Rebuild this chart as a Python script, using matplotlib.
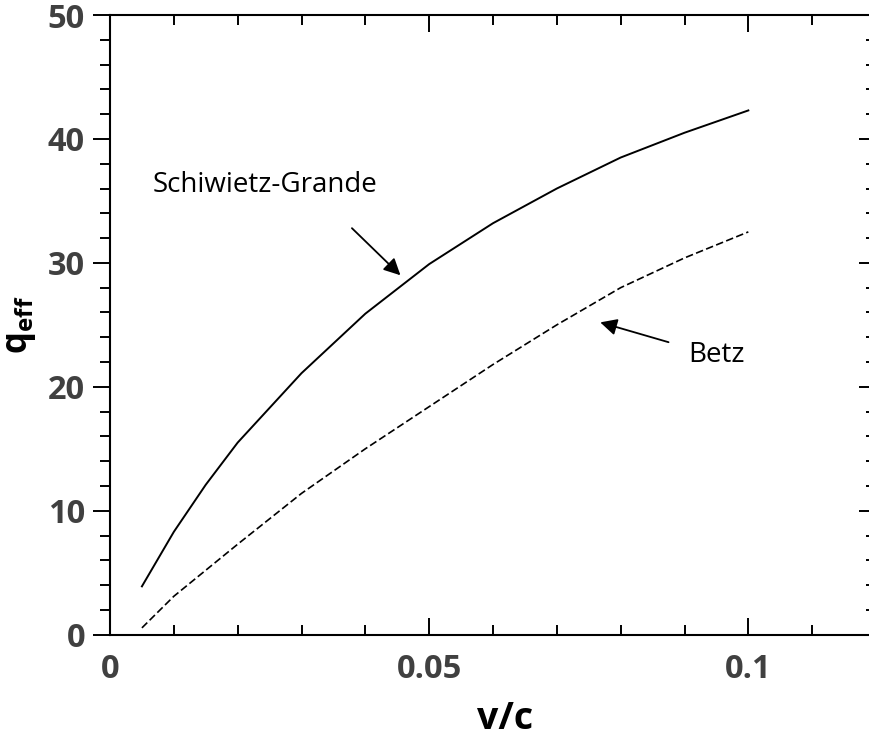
import matplotlib
matplotlib.use("Agg")
import matplotlib.pyplot as plt
from matplotlib.ticker import MultipleLocator

plt.rcParams['font.family'] = ['Open Sans', 'DejaVu Sans']
plt.rcParams['mathtext.fontset'] = 'custom'
plt.rcParams['mathtext.bf'] = 'Open Sans:bold'
plt.rcParams['mathtext.rm'] = 'Open Sans'

# valores
v = [0.005, 0.01, 0.015, 0.02, 0.03, 0.04, 0.05, 0.06, 0.07, 0.08, 0.09, 0.1]
q_sg = [3.9, 8.3, 12.1, 15.5, 21.1, 25.9, 29.9, 33.2, 36.0, 38.5, 40.5, 42.3]
q_betz = [0.55, 3.1, 5.2, 7.3, 11.4, 15.0, 18.4, 21.8, 25.0, 28.0, 30.4, 32.5]

x_ticks = [0, 0.05, 0.1]
x_labels = ["0", "0.05", "0.1"]
y_ticks = [0, 10, 20, 30, 40, 50]

W, H = 870, 739
fig = plt.figure(figsize=(W / 100, H / 100), dpi=100)
ax = fig.add_axes([110 / W, (H - 634.7) / H, 766 / W, 619.7 / H])

ax.plot(v, q_sg, color='black', lw=1.4)
ax.plot(v, q_betz, color='black', lw=1.2, linestyle=(0, (4.5, 2.0)))

ax.set_xlim(0, 0.12)
ax.set_ylim(0, 50)

for s in ax.spines.values():
    s.set_linewidth(1.5)

tick_font = dict(fontsize=23.5, fontweight='bold', color='#404040')

ax.set_xticks(x_ticks)
ax.set_xticklabels(x_labels, **tick_font)
ax.xaxis.set_minor_locator(MultipleLocator(0.01))
ax.tick_params(axis='x', which='both', direction='in', top=True, width=1.4, pad=13)
ax.tick_params(axis='x', which='major', length=12)
ax.tick_params(axis='x', which='minor', length=7)

ax.set_yticks(y_ticks)
ax.set_yticklabels([str(t) for t in y_ticks], **tick_font)
ax.yaxis.set_minor_locator(MultipleLocator(2))
ax.tick_params(axis='y', which='both', direction='out', right=False, width=1.4, pad=6)
ax.tick_params(axis='y', which='major', length=12)
ax.tick_params(axis='y', which='minor', length=7)

# eje derecho con marcas hacia dentro
sec = ax.secondary_yaxis('right')
sec.set_yticks(y_ticks)
sec.set_yticklabels([])
sec.yaxis.set_minor_locator(MultipleLocator(2))
sec.tick_params(which='both', direction='in', width=1.4)
sec.tick_params(which='major', length=12)
sec.tick_params(which='minor', length=7)
sec.spines['right'].set_linewidth(1.5)

ax.set_xlabel('v/c', fontsize=27, fontweight='bold')
ax.xaxis.set_label_coords(0.516, -0.106)
ax.set_ylabel(r'$\mathbf{q_{eff}}$', fontsize=25)
ax.yaxis.set_label_coords(-0.094, 0.5)

ax.text(0.0066, 36.3, 'Schiwietz-Grande', fontsize=20, va='center', ha='left')
ax.annotate('', xy=(0.0455, 29.0), xytext=(0.0379, 32.8),
            arrowprops=dict(arrowstyle='-|>', color='black', lw=1.3,
                            mutation_scale=25, shrinkA=0, shrinkB=0))

ax.text(0.0906, 22.6, 'Betz', fontsize=20, va='center', ha='left')
ax.annotate('', xy=(0.0768, 25.2), xytext=(0.0875, 23.6),
            arrowprops=dict(arrowstyle='-|>', color='black', lw=1.3,
                            mutation_scale=25, shrinkA=0, shrinkB=0))

plt.savefig('out.png', dpi=100)
